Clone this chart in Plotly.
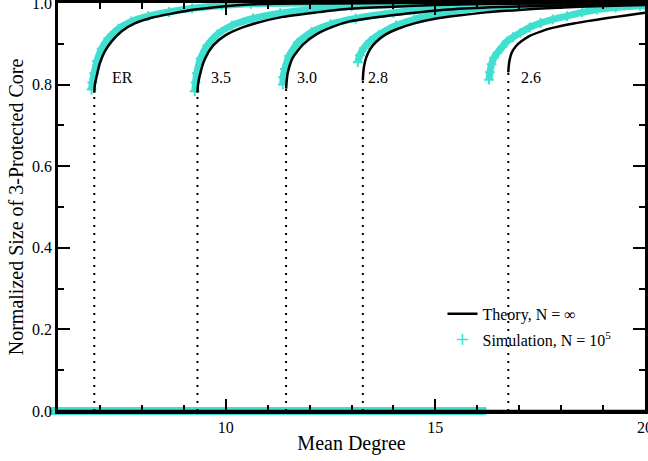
import plotly.graph_objects as go

# ---- theory curves (N = infinity), one per network type ----
theory_labels = ["ER", "3.5", "3.0", "2.8", "2.6"]

th_er_x = [6.865, 6.88, 6.92, 7.00, 7.12, 7.28, 7.52, 7.83, 8.23, 8.71, 9.26, 9.98, 10.45, 11.2, 12.5, 14.0, 20.0]
th_er_y = [0.780, 0.800, 0.820, 0.853, 0.882, 0.906, 0.931, 0.950, 0.964, 0.974, 0.984, 0.992, 0.996, 0.998, 0.999, 1.000, 1.000]

th_35_x = [9.326, 9.34, 9.38, 9.50, 9.70, 9.98, 10.37, 10.73, 11.36, 12.16, 12.95, 14.0, 15.0, 16.5, 20.0]
th_35_y = [0.780, 0.800, 0.822, 0.862, 0.896, 0.920, 0.939, 0.951, 0.966, 0.977, 0.986, 0.991, 0.995, 0.998, 1.000]

th_30_x = [11.44, 11.45, 11.48, 11.60, 11.84, 12.16, 12.56, 12.95, 13.50, 14.14, 15.33, 16.5, 18.0, 20.0]
th_30_y = [0.790, 0.805, 0.829, 0.866, 0.898, 0.923, 0.942, 0.955, 0.964, 0.972, 0.984, 0.990, 0.994, 0.998]

th_28_x = [13.27, 13.28, 13.30, 13.35, 13.45, 13.59, 13.80, 14.06, 14.50, 15.02, 15.60, 16.21, 17.00, 17.80, 18.80, 20.0]
th_28_y = [0.810, 0.828, 0.845, 0.866, 0.888, 0.905, 0.922, 0.935, 0.950, 0.962, 0.970, 0.977, 0.983, 0.988, 0.992, 0.995]

th_26_x = [16.74, 16.75, 16.77, 16.82, 16.92, 17.05, 17.24, 17.51, 17.79, 18.30, 18.59, 19.10, 19.50, 20.0]
th_26_y = [0.830, 0.845, 0.860, 0.878, 0.894, 0.906, 0.919, 0.930, 0.939, 0.950, 0.955, 0.963, 0.969, 0.976]

# ---- simulation results, N = 1e5 ----
sim_er_x = [6.80, 6.82, 6.86, 6.93, 7.04, 7.20, 7.44, 7.75, 8.15, 8.65, 9.20, 9.90, 10.6, 12.0, 20.0]
sim_er_y = [0.788, 0.805, 0.828, 0.858, 0.888, 0.913, 0.937, 0.955, 0.968, 0.978, 0.987, 0.994, 0.998, 1.000, 1.000]

sim_35_x = [9.26, 9.28, 9.31, 9.40, 9.56, 9.80, 10.15, 10.65, 11.30, 12.10, 13.00, 14.20, 16.0, 20.0]
sim_35_y = [0.784, 0.805, 0.828, 0.864, 0.896, 0.923, 0.945, 0.962, 0.975, 0.985, 0.992, 0.997, 1.000, 1.000]

sim_30_x = [11.36, 11.37, 11.41, 11.51, 11.72, 12.05, 12.50, 13.10, 14.00, 15.20, 16.50, 18.0, 20.0]
sim_30_y = [0.800, 0.818, 0.838, 0.870, 0.903, 0.929, 0.948, 0.962, 0.976, 0.988, 0.995, 0.999, 1.000]

sim_28_x = [13.15, 13.20, 13.30, 13.45, 13.65, 14.06, 14.50, 14.86, 15.30, 15.81, 16.50, 17.0, 18.0, 20.0]
sim_28_y = [0.855, 0.872, 0.890, 0.907, 0.922, 0.945, 0.960, 0.970, 0.978, 0.985, 0.991, 0.994, 0.998, 1.000]

sim_26_x = [16.28, 16.30, 16.34, 16.40, 16.48, 16.60, 16.71, 16.85, 17.03, 17.25, 17.51, 17.80, 18.14, 18.50, 18.86, 19.30, 19.88, 20.0]
sim_26_y = [0.812, 0.830, 0.850, 0.866, 0.878, 0.893, 0.906, 0.916, 0.927, 0.940, 0.951, 0.960, 0.968, 0.977, 0.984, 0.989, 0.993, 0.994]

# simulation runs below threshold collapse to an empty core
sim_zero_x = [6.5, 7.5, 8.5, 9.5, 10.5, 11.5, 12.5, 13.5, 14.5, 15.5]
sim_zero_y = [0, 0, 0, 0, 0, 0, 0, 0, 0, 0]

theory_zero_x = [6, 20]
theory_zero_y = [0, 0]

# axis ticks
x_range = [6, 20]
y_range = [0, 1]
x_ticks = [10, 15, 20]
y_ticks = [0.0, 0.2, 0.4, 0.6, 0.8, 1.0]
y_ticktext = ["0.0", "0.2", "0.4", "0.6", "0.8", "1.0"]

# curve label anchors (x, y) for the text next to each transition
label_x = [7.55, 9.88, 11.93, 13.62, 17.28]
label_y = [0.817, 0.817, 0.817, 0.817, 0.817]

TURQ = "#40E0D0"
FONT = "Liberation Serif"

theory = [(th_er_x, th_er_y), (th_35_x, th_35_y), (th_30_x, th_30_y),
          (th_28_x, th_28_y), (th_26_x, th_26_y)]
sims = [(sim_er_x, sim_er_y), (sim_35_x, sim_35_y), (sim_30_x, sim_30_y),
        (sim_28_x, sim_28_y), (sim_26_x, sim_26_y)]

fig = go.Figure()

# simulation bands
fig.add_trace(go.Scatter(
    x=sim_zero_x, y=sim_zero_y, mode="markers", cliponaxis=False,
    marker=dict(symbol="line-ew", size=43, color=TURQ, line=dict(color=TURQ, width=8)),
    showlegend=False, hoverinfo="skip"))
for sx, sy in sims:
    fig.add_trace(go.Scatter(
        x=sx, y=sy, mode="lines+markers",
        line=dict(color=TURQ, width=7, shape="spline", smoothing=0.6),
        marker=dict(symbol="cross-thin", size=7, color=TURQ, line=dict(color=TURQ, width=2)),
        showlegend=False, hoverinfo="skip"))

# theory curves and dotted jumps at the transitions
fig.add_trace(go.Scatter(x=theory_zero_x, y=theory_zero_y, mode="lines",
                         line=dict(color="black", width=2.5), showlegend=False, hoverinfo="skip"))
for (tx, ty) in theory:
    fig.add_trace(go.Scatter(
        x=[tx[0], tx[0]], y=[0, ty[0]], mode="lines",
        line=dict(color="black", width=2, dash="2px,6px"),
        showlegend=False, hoverinfo="skip"))
for i, (tx, ty) in enumerate(theory):
    fig.add_trace(go.Scatter(
        x=tx, y=ty, mode="lines",
        line=dict(color="black", width=2.5, shape="spline", smoothing=0.6),
        name="Theory, N = ∞", legendgroup="theory", showlegend=(i == 0),
        hoverinfo="skip"))

# legend entry for the simulation markers; it also carries the mirrored axes
fig.add_trace(go.Scatter(
    x=[None], y=[None], mode="markers", name="Simulation, N = 10<sup>5</sup>",
    legendgroup="sim", xaxis="x2", yaxis="y2",
    marker=dict(symbol="cross-thin", size=8, color=TURQ, line=dict(color=TURQ, width=1.5))))

for txt, lx, ly in zip(theory_labels, label_x, label_y):
    fig.add_annotation(x=lx, y=ly, text=txt, showarrow=False,
                       font=dict(family=FONT, size=16, color="black"))

tick_style = dict(ticks="inside", ticklen=12, tickwidth=2, tickcolor="black",
                  showgrid=False, zeroline=False, layer="above traces", automargin=False)
minor_x = dict(ticks="inside", dtick=1, ticklen=6, tickwidth=2, tickcolor="black")
minor_y = dict(ticks="inside", dtick=0.1, ticklen=6, tickwidth=2, tickcolor="black")
label_font = dict(family=FONT, size=16, color="black")
title_font = dict(family=FONT, size=20, color="black")

fig.update_layout(
    width=648, height=461,
    margin=dict(l=58, r=3, t=3, b=50, autoexpand=False),
    plot_bgcolor="white", paper_bgcolor="white",
    xaxis=dict(range=x_range, tickvals=x_ticks, minor=minor_x,
               showline=True, linecolor="black", linewidth=2.5, mirror=True,
               tickfont=label_font, ticklabeloverflow="allow",
               title=dict(text="Mean Degree", font=title_font, standoff=2),
               **tick_style),
    yaxis=dict(range=y_range, tickvals=y_ticks, ticktext=y_ticktext, minor=minor_y,
               showline=True, linecolor="black", linewidth=2.5, mirror=True,
               tickfont=label_font, ticklabeloverflow="allow",
               title=dict(text="Normalized Size of 3-Protected Core", font=title_font, standoff=4),
               **tick_style),
    xaxis2=dict(range=x_range, tickvals=x_ticks, minor=minor_x, overlaying="x", side="top",
                showticklabels=False, showline=False, **tick_style),
    yaxis2=dict(range=y_range, tickvals=y_ticks, minor=minor_y, overlaying="y", side="right",
                showticklabels=False, showline=False, **tick_style),
    legend=dict(x=0.655, y=0.28, xanchor="left", yanchor="top",
                font=dict(family=FONT, size=16, color="black"),
                bgcolor="rgba(0,0,0,0)", traceorder="grouped", tracegroupgap=2),
)

fig.write_html("out.html")
